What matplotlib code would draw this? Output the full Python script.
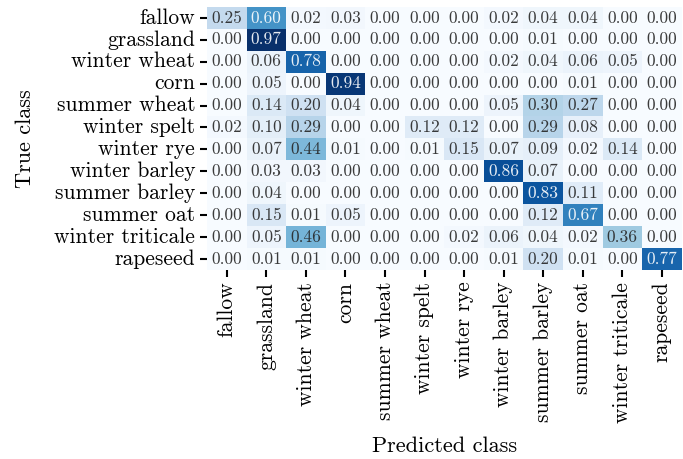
import numpy as np
import matplotlib
matplotlib.use("Agg")
import matplotlib.pyplot as plt
import seaborn as sns

plt.rcParams["font.family"] = "serif"
plt.rcParams["font.serif"] = ["cmr10"]
plt.rcParams["axes.formatter.use_mathtext"] = True
plt.rcParams["mathtext.fontset"] = "cm"

classes = ["fallow", "grassland", "winter wheat", "corn", "summer wheat",
           "winter spelt", "winter rye", "winter barley", "summer barley",
           "summer oat", "winter triticale", "rapeseed"]

# rows: true class, columns: predicted class
conf = np.array([
    [0.25, 0.60, 0.02, 0.03, 0.00, 0.00, 0.00, 0.02, 0.04, 0.04, 0.00, 0.00],
    [0.00, 0.97, 0.00, 0.00, 0.00, 0.00, 0.00, 0.00, 0.01, 0.00, 0.00, 0.00],
    [0.00, 0.06, 0.78, 0.00, 0.00, 0.00, 0.00, 0.02, 0.04, 0.06, 0.05, 0.00],
    [0.00, 0.05, 0.00, 0.94, 0.00, 0.00, 0.00, 0.00, 0.00, 0.01, 0.00, 0.00],
    [0.00, 0.14, 0.20, 0.04, 0.00, 0.00, 0.00, 0.05, 0.30, 0.27, 0.00, 0.00],
    [0.02, 0.10, 0.29, 0.00, 0.00, 0.12, 0.12, 0.00, 0.29, 0.08, 0.00, 0.00],
    [0.00, 0.07, 0.44, 0.01, 0.00, 0.01, 0.15, 0.07, 0.09, 0.02, 0.14, 0.00],
    [0.00, 0.03, 0.03, 0.00, 0.00, 0.00, 0.00, 0.86, 0.07, 0.00, 0.00, 0.00],
    [0.00, 0.04, 0.00, 0.00, 0.00, 0.00, 0.00, 0.00, 0.83, 0.11, 0.00, 0.00],
    [0.00, 0.15, 0.01, 0.05, 0.00, 0.00, 0.00, 0.00, 0.12, 0.67, 0.00, 0.00],
    [0.00, 0.05, 0.46, 0.00, 0.00, 0.00, 0.02, 0.06, 0.04, 0.02, 0.36, 0.00],
    [0.00, 0.01, 0.01, 0.00, 0.00, 0.00, 0.00, 0.01, 0.20, 0.01, 0.00, 0.77],
])

fig = plt.figure(figsize=(6.83, 4.59), dpi=100)
ax = fig.add_axes([0.303, 0.412, 0.695, 0.573])
sns.heatmap(conf, annot=True, fmt=".2f", cmap="Blues", cbar=False,
            xticklabels=classes, yticklabels=classes,
            annot_kws={"fontsize": 12.5, "alpha": 0.9}, ax=ax)
ax.set_xlabel("Predicted class", fontsize=16, labelpad=10)
ax.set_ylabel("True class", fontsize=16, labelpad=14)
ax.tick_params(axis="both", labelsize=15.5, length=5, width=1.5)
plt.setp(ax.get_xticklabels(), rotation=90)
plt.setp(ax.get_yticklabels(), rotation=0)

fig.savefig("out.png", dpi=100)
